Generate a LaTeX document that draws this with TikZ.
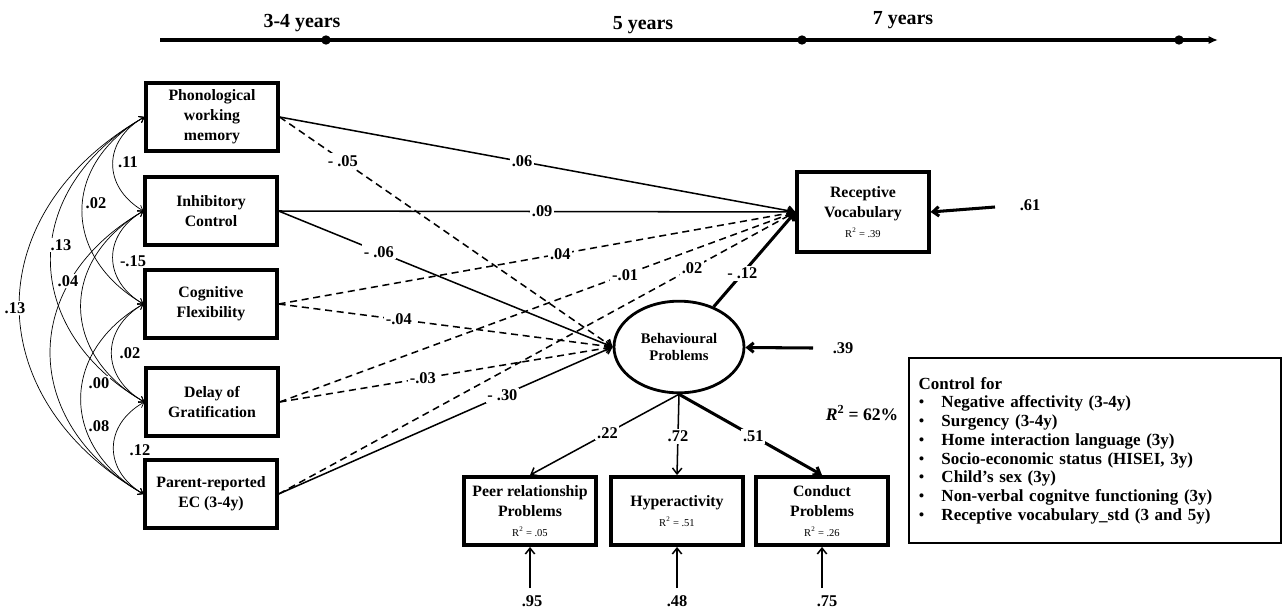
\documentclass[tikz,border=0pt]{standalone}
\usepackage{fontspec}
\setmainfont{Liberation Serif}
\usetikzlibrary{arrows.meta,shapes.geometric}

\newcommand{\rsq}[1]{{\normalfont\fontsize{9}{10}\selectfont R\textsuperscript{2} = #1}}
\newcommand{\ctrlitem}[1]{\makebox[1.35em][l]{\normalfont\textbullet}#1}

\begin{document}
\begin{tikzpicture}[x = 0.03cm, y = -0.03cm,
    measure/.style = {draw, line width = 3pt, minimum width = 3.95cm, minimum height = 2.05cm, align = center, font = \bfseries\fontsize{13.5}{17}\selectfont},
    latent/.style = {draw, ellipse, line width = 2.4pt, minimum width = 3.9cm, minimum height = 2.75cm, align = center, font = \bfseries\fontsize{12.5}{15}\selectfont},
    coef/.style = {fill = white, inner sep = 1.5pt, font = \bfseries\fontsize{14}{16}\selectfont},
    age/.style = {font = \bfseries\fontsize{17}{19}\selectfont},
    time dot/.style = {circle, fill, inner sep = 0pt, minimum size = 8pt},
    effect/.style = {->, line width = 1.3pt},
    dashed effect/.style = {effect, dash pattern = on 6pt off 4pt},
    strong effect/.style = {->, line width = 2.6pt},
    covariance/.style = {>={Straight Barb[length = 4pt, width = 6pt]}, <->, line width = 0.6pt, bend right = 60, looseness = 1.3},
    >={Straight Barb[length = 5pt, width = 8pt]}]
  \useasboundingbox (0, 0) rectangle (1282, 610);

  % time line
  \coordinate (time start) at (160, 40);
  \coordinate (time end) at (1218, 40);
  \draw[line width = 2.6pt, -{Latex[length = 8pt, width = 7pt]}] (time start) -- (time end);
  \node[time dot] (dot 34) at (326, 40) {};
  \node[time dot] (dot 5) at (802, 40) {};
  \node[time dot] (dot 7) at (1179, 40) {};
  \node[age] (age 34) at (302, 23) {3-4 years};
  \node[age] (age 5) at (643, 25) {5 years};
  \node[age] (age 7) at (903, 20) {7 years};

  % predictors
  \node[measure] (working memory) at (212, 117) {Phonological \\ working \\ memory};
  \node[measure] (inhibitory control) at (211, 211) {Inhibitory \\ Control};
  \node[measure] (cognitive flexibility) at (211, 304) {Cognitive \\ Flexibility};
  \node[measure] (delay) at (212, 402) {Delay of \\ Gratification};
  \node[measure] (parent ec) at (211, 494) {Parent-reported \\ EC (3-4y)};

  % outcomes
  \node[measure, minimum height = 2.4cm] (vocabulary) at (863, 212) {Receptive \\ Vocabulary \\ \rsq{.39}};
  \node[latent] (behaviour) at (679, 347) {Behavioural \\ Problems};
  \node[measure] (peer) at (530, 511) {Peer relationship \\ Problems \\ \rsq{.05}};
  \node[measure] (hyperactivity) at (677, 511) {Hyperactivity \\ \rsq{.51}};
  \node[measure] (conduct) at (822, 511) {Conduct \\ Problems \\ \rsq{.26}};

  % covariances
  \draw[covariance] (working memory.west) to (inhibitory control.west);
  \draw[covariance] (working memory.west) to (cognitive flexibility.west);
  \draw[covariance] (working memory.west) to (delay.west);
  \draw[covariance] (working memory.west) to (parent ec.west);
  \draw[covariance] (inhibitory control.west) to (cognitive flexibility.west);
  \draw[covariance] (inhibitory control.west) to (delay.west);
  \draw[covariance] (inhibitory control.west) to (parent ec.west);
  \draw[covariance] (cognitive flexibility.west) to (delay.west);
  \draw[covariance] (cognitive flexibility.west) to (parent ec.west);
  \draw[covariance] (delay.west) to (parent ec.west);
  \node[coef, inner sep = 1pt] (r 11) at (128, 162) {.11};
  \node[coef, inner sep = 1pt] (r 02a) at (96, 203) {.02};
  \node[coef, inner sep = 1pt] (r 13a) at (61, 245) {.13};
  \node[coef, inner sep = 1pt] (r 15) at (133, 261) {-.15};
  \node[coef, inner sep = 1pt] (r 04) at (68, 281) {.04};
  \node[coef, inner sep = 1pt] (r 13b) at (15, 308) {.13};
  \node[coef, inner sep = 1pt] (r 02b) at (130, 353) {.02};
  \node[coef, inner sep = 1pt] (r 00) at (99, 383) {.00};
  \node[coef, inner sep = 1pt] (r 08) at (99, 426) {.08};
  \node[coef, inner sep = 1pt] (r 12) at (140, 450) {.12};

  % paths to vocabulary and behaviour
  \draw[effect] (working memory.east) -- node[coef, pos = 0.47] (b 06) {.06} (vocabulary.west);
  \draw[dashed effect] (working memory.east) -- node[coef, pos = 0.19] (b 05) {- .05} (behaviour.west);
  \draw[effect] (inhibitory control.east) -- node[coef, pos = 0.51] (b 09) {.09} (vocabulary.west);
  \draw[effect] (inhibitory control.east) -- node[coef, pos = 0.30] (b 06n) {- .06} (behaviour.west);
  \draw[dashed effect] (cognitive flexibility.east) -- node[coef, pos = 0.545] (b 04) {.04} (vocabulary.west);
  \draw[dashed effect] (cognitive flexibility.east) -- node[coef, pos = 0.36] (b 04n) {-.04} (behaviour.west);
  \draw[dashed effect] (delay.east) -- node[coef, pos = 0.67] (b 01) {-.01} (vocabulary.west);
  \draw[dashed effect] (delay.east) -- node[coef, pos = 0.43] (b 03) {-.03} (behaviour.west);
  \draw[dashed effect] (parent ec.east) -- node[coef, pos = 0.80] (b 02) {.02} (vocabulary.west);
  \draw[effect] (parent ec.east) -- node[coef, pos = 0.67] (b 30) {- .30} (behaviour.west);
  \draw[strong effect] (behaviour) -- node[coef, pos = 0.35] (b 12) {- .12} (vocabulary.west);

  % indicators of behaviour
  \draw[effect] (behaviour.south) -- node[coef, pos = 0.48] (l 22) {.22} (peer.north);
  \draw[effect] (behaviour.south) -- node[coef, pos = 0.52] (l 72) {.72} (hyperactivity.north);
  \draw[strong effect] (behaviour.south) -- node[coef, pos = 0.52] (l 51) {.51} (conduct.north);

  % residuals
  \coordinate (vocabulary error) at (995, 207);
  \coordinate (behaviour error) at (813, 348);
  \coordinate (peer error) at (530, 588);
  \coordinate (hyperactivity error) at (677, 588);
  \coordinate (conduct error) at (822, 588);
  \draw[strong effect] (vocabulary error) -- (vocabulary.east);
  \draw[strong effect] (behaviour error) -- (behaviour);
  \draw[effect] (peer error) -- (peer.south);
  \draw[effect] (hyperactivity error) -- (hyperactivity.south);
  \draw[effect] (conduct error) -- (conduct.south);
  \node[coef] (e 61) at (1030, 205) {.61};
  \node[coef] (e 39) at (843, 348) {.39};
  \node[coef] (e 95) at (532, 601) {.95};
  \node[coef] (e 48) at (677, 601) {.48};
  \node[coef] (e 75) at (827, 601) {.75};
  \node[font = \bfseries\fontsize{15}{17}\selectfont] (explained) at (862, 413) {\textit{R}\textsuperscript{2} = 62\%};

  % control variables
  \node[draw, line width = 2pt, anchor = north west, inner xsep = 8pt, text width = 10.6cm, minimum height = 5.55cm, align = left, font = \bfseries\fontsize{14.5}{16}\selectfont] (control box) at (908, 357) {Control for \\
    \ctrlitem{Negative affectivity (3-4y)} \\
    \ctrlitem{Surgency (3-4y)} \\
    \ctrlitem{Home interaction language (3y)} \\
    \ctrlitem{Socio-economic status (HISEI, 3y)} \\
    \ctrlitem{Child’s sex (3y)} \\
    \ctrlitem{Non-verbal cognitve functioning (3y)} \\
    \ctrlitem{Receptive vocabulary\_std (3 and 5y)}};
\end{tikzpicture}
\end{document}
